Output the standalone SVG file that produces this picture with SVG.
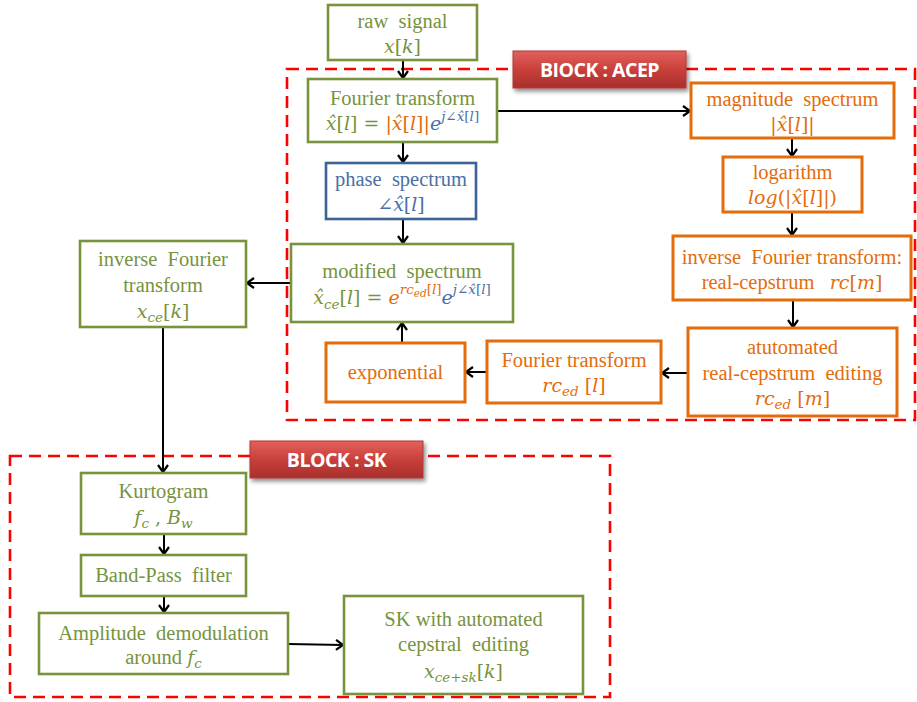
<svg xmlns="http://www.w3.org/2000/svg" width="917" height="702" viewBox="0 0 917 702">
<style>
.box{fill:#fff;stroke-width:2.6}
.gb{stroke:#77933C}
.ob{stroke:#E46C0A;stroke-width:3}
.bb{stroke:#3B6396}
.t{font-family:"Liberation Serif","Times New Roman",serif;font-size:20.5px;text-anchor:middle;white-space:pre}
.m{font-family:"DejaVu Serif","Liberation Serif",serif;font-size:19px}
.g{fill:#77933C}
.o{fill:#E46C0A}
.b{fill:#4A6FA5}
.i{font-style:italic}
.s{font-size:13.5px}
.ss{font-size:10.5px}
.dash{fill:none;stroke:#FF0000;stroke-width:2.6;stroke-dasharray:12 7}
.lbl{font-family:"Open Sans","Liberation Sans",sans-serif;font-weight:bold;font-size:19.5px;fill:#fff;text-anchor:middle;letter-spacing:-0.5px}
.c{fill:none;stroke:#000;stroke-width:2;marker-end:url(#ah)}
</style>
<defs>
<marker id="ah" markerUnits="userSpaceOnUse" markerWidth="12" markerHeight="14" refX="9" refY="6" orient="auto">
<path d="M2,1 L9,6 L2,11" fill="none" stroke="#000" stroke-width="2.2"/>
</marker>
<linearGradient id="rg" x1="0" y1="0" x2="0" y2="1">
<stop offset="0" stop-color="#E2615C"/>
<stop offset="0.5" stop-color="#C9403B"/>
<stop offset="1" stop-color="#A8302C"/>
</linearGradient>
<filter id="sh" x="-10%" y="-20%" width="130%" height="160%">
<feDropShadow dx="2" dy="3" stdDeviation="2" flood-color="#000" flood-opacity="0.45"/>
</filter>
</defs>

<g id="block-acep">
<rect class="dash" x="287" y="69" width="628" height="351"/>
<rect x="513" y="51" width="173" height="37" fill="url(#rg)" stroke="#B03A36" stroke-width="1" filter="url(#sh)"/>
<text class="lbl" x="599.5" y="77">BIOCK : ACEP</text>
</g>
<g id="block-sk">
<rect class="dash" x="10" y="456" width="600" height="241"/>
<rect x="250" y="441" width="173" height="37" fill="url(#rg)" stroke="#B03A36" stroke-width="1" filter="url(#sh)"/>
<text class="lbl" x="336.5" y="467">BLOCK : SK</text>
</g>

<g id="connectors">
<line class="c" x1="403" y1="60" x2="403" y2="78"/>
<line class="c" x1="403" y1="142" x2="403" y2="162"/>
<line class="c" x1="403" y1="219" x2="403" y2="243"/>
<line class="c" x1="497" y1="111" x2="690" y2="111"/>
<line class="c" x1="792" y1="138" x2="792" y2="156"/>
<line class="c" x1="792" y1="212" x2="792" y2="235"/>
<line class="c" x1="793" y1="300" x2="793" y2="327"/>
<line class="c" x1="688" y1="373" x2="662" y2="373"/>
<line class="c" x1="487" y1="372" x2="466" y2="372"/>
<line class="c" x1="402" y1="343" x2="402" y2="323"/>
<line class="c" x1="291" y1="283" x2="247" y2="283"/>
<line class="c" x1="163" y1="327" x2="163" y2="472"/>
<line class="c" x1="164" y1="534" x2="164" y2="554"/>
<line class="c" x1="164" y1="596" x2="164" y2="612"/>
<line class="c" x1="288" y1="644" x2="343" y2="645"/>
</g>

<g id="raw-signal">
<rect class="box gb" x="328" y="5" width="149" height="55"/>
<text class="t g" x="402.5" y="28">raw  signal</text>
<text class="t m g" x="402.5" y="53"><tspan class="i">x</tspan>[<tspan class="i">k</tspan>]</text>
</g>

<g id="fourier-transform">
<rect class="box gb" x="308" y="79" width="189" height="63"/>
<text class="t g" x="402.5" y="105">Fourier transform</text>
<text class="t m g" x="402.5" y="130"><tspan class="i">x̂</tspan>[<tspan class="i">l</tspan>] = <tspan class="o">|<tspan class="i">x̂</tspan>[<tspan class="i">l</tspan>]|</tspan><tspan class="b"><tspan class="i">e</tspan><tspan class="s" dy="-9"><tspan class="i">j</tspan>∠<tspan class="i">x̂</tspan>[<tspan class="i">l</tspan>]</tspan></tspan></text>
</g>

<g id="phase-spectrum">
<rect class="box bb" x="326" y="163" width="150" height="56"/>
<text class="t b" x="401" y="186">phase  spectrum</text>
<text class="t m b" x="401" y="211">∠<tspan class="i">x̂</tspan>[<tspan class="i">l</tspan>]</text>
</g>

<g id="modified-spectrum">
<rect class="box gb" x="291" y="244" width="222" height="78"/>
<text class="t g" x="402" y="278">modified  spectrum</text>
<text class="t m g" x="402" y="304"><tspan class="i">x̂</tspan><tspan class="s i" dy="5">ce</tspan><tspan dy="-5">[</tspan><tspan class="i">l</tspan>] = <tspan class="o"><tspan class="i">e</tspan><tspan class="s i" dy="-10">rc</tspan><tspan class="ss i" dy="3">ed</tspan><tspan class="s" dy="-3">[<tspan class="i">l</tspan>]</tspan></tspan><tspan class="b"><tspan class="i" dy="10">e</tspan><tspan class="s" dy="-10"><tspan class="i">j</tspan>∠<tspan class="i">x̂</tspan>[<tspan class="i">l</tspan>]</tspan></tspan></text>
</g>

<g id="magnitude-spectrum">
<rect class="box ob" x="691" y="83" width="203" height="55"/>
<text class="t o" x="792.5" y="106">magnitude  spectrum</text>
<text class="t m o" x="792.5" y="131">|<tspan class="i">x̂</tspan>[<tspan class="i">l</tspan>]|</text>
</g>

<g id="logarithm">
<rect class="box ob" x="723" y="157" width="139" height="55"/>
<text class="t o" x="792.5" y="179">logarithm</text>
<text class="t m o" x="792.5" y="204"><tspan class="i">log</tspan>(|<tspan class="i">x̂</tspan>[<tspan class="i">l</tspan>]|)</text>
</g>

<g id="inverse-ft-cepstrum">
<rect class="box ob" x="673" y="236" width="238" height="64"/>
<text class="t o" x="792" y="264">inverse  Fourier transform:</text>
<text class="t o" x="792" y="289">real-cepstrum   <tspan class="m"><tspan class="i">rc</tspan>[<tspan class="i">m</tspan>]</tspan></text>
</g>

<g id="automated-editing">
<rect class="box ob" x="688" y="328" width="209" height="88"/>
<text class="t o" x="792.5" y="354">atutomated</text>
<text class="t o" x="792.5" y="380">real-cepstrum  editing</text>
<text class="t m o" x="792.5" y="405"><tspan class="i">rc</tspan><tspan class="s i" dy="4">ed</tspan><tspan dy="-4"> [</tspan><tspan class="i">m</tspan>]</text>
</g>

<g id="fourier-transform-rced">
<rect class="box ob" x="487" y="341" width="174" height="62"/>
<text class="t o" x="574" y="367">Fourier transform</text>
<text class="t m o" x="574" y="392"><tspan class="i">rc</tspan><tspan class="s i" dy="4">ed</tspan><tspan dy="-4"> [</tspan><tspan class="i">l</tspan>]</text>
</g>

<g id="exponential">
<rect class="box ob" x="326" y="343" width="139" height="59"/>
<text class="t o" x="395.5" y="379">exponential</text>
</g>

<g id="inverse-ft">
<rect class="box gb" x="80" y="241" width="166" height="86"/>
<text class="t g" x="163" y="266">inverse  Fourier</text>
<text class="t g" x="163" y="292">transform</text>
<text class="t m g" x="163" y="318"><tspan class="i">x</tspan><tspan class="s i" dy="4">ce</tspan><tspan dy="-4">[</tspan><tspan class="i">k</tspan>]</text>
</g>

<g id="kurtogram">
<rect class="box gb" x="81" y="473" width="165" height="61"/>
<text class="t g" x="163.5" y="498">Kurtogram</text>
<text class="t m g" x="163.5" y="524"><tspan class="i">f</tspan><tspan class="s i" dy="4">c</tspan><tspan dy="-4"> , </tspan><tspan class="i">B</tspan><tspan class="s i" dy="4">w</tspan></text>
</g>

<g id="band-pass">
<rect class="box gb" x="81" y="555" width="165" height="41"/>
<text class="t g" x="163.5" y="582">Band-Pass  filter</text>
</g>

<g id="amplitude-demodulation">
<rect class="box gb" x="39" y="613" width="249" height="61"/>
<text class="t g" x="163.5" y="640">Amplitude  demodulation</text>
<text class="t g" x="163.5" y="664">around <tspan class="m"><tspan class="i">f</tspan><tspan class="s i" dy="4">c</tspan></tspan></text>
</g>

<g id="sk-output">
<rect class="box gb" x="344" y="596" width="239" height="98"/>
<text class="t g" x="463.5" y="626">SK with automated</text>
<text class="t g" x="463.5" y="651">cepstral  editing</text>
<text class="t m g" x="463.5" y="678"><tspan class="i">x</tspan><tspan class="s i" dy="4">ce+sk</tspan><tspan dy="-4">[</tspan><tspan class="i">k</tspan>]</text>
</g>
</svg>
